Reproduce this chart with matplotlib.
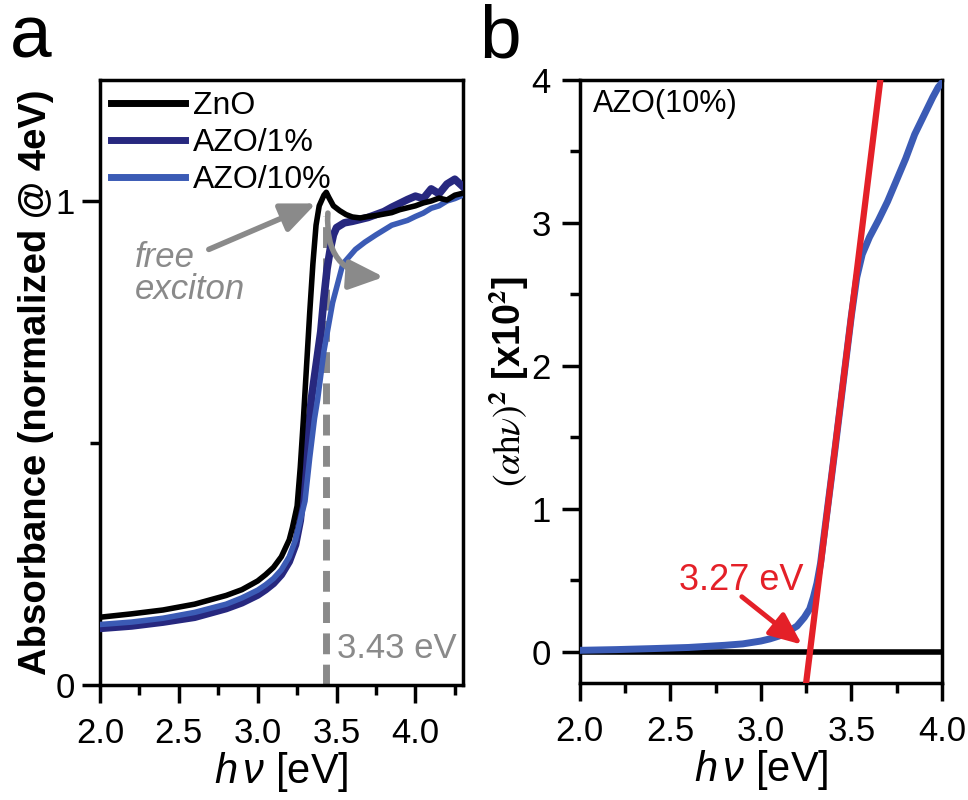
import matplotlib
matplotlib.use("Agg")
import matplotlib.pyplot as plt
from matplotlib.ticker import MultipleLocator

plt.rcParams["font.family"] = ["Liberation Sans", "DejaVu Sans"]
plt.rcParams["mathtext.fontset"] = "custom"
plt.rcParams["mathtext.rm"] = "Liberation Sans"
plt.rcParams["mathtext.it"] = "Liberation Sans:italic"
plt.rcParams["mathtext.bf"] = "Liberation Sans:bold"

# (a) normalized absorbance spectra
zno_x = [2.0, 2.2, 2.4, 2.6, 2.8, 2.9, 3.0, 3.05, 3.1, 3.15, 3.2, 3.22, 3.25, 3.27, 3.29,
         3.31, 3.33, 3.35, 3.37, 3.39, 3.42, 3.435, 3.45, 3.48, 3.52, 3.56, 3.6, 3.65, 3.7,
         3.75, 3.8, 3.85, 3.9, 3.95, 4.0, 4.05, 4.1, 4.15, 4.2, 4.25, 4.3]
zno_y = [0.140, 0.147, 0.155, 0.167, 0.185, 0.197, 0.215, 0.228, 0.243, 0.265, 0.300, 0.325,
         0.370, 0.450, 0.550, 0.660, 0.770, 0.870, 0.950, 0.990, 1.012, 1.018, 1.008, 0.990,
         0.980, 0.972, 0.967, 0.965, 0.968, 0.970, 0.973, 0.976, 0.982, 0.986, 0.990, 0.996,
         1.000, 1.006, 1.002, 1.012, 1.016]

azo1_x = [2.0, 2.2, 2.4, 2.6, 2.8, 2.9, 3.0, 3.05, 3.1, 3.15, 3.2, 3.24, 3.27, 3.3, 3.32,
          3.34, 3.37, 3.4, 3.42, 3.44, 3.46, 3.48, 3.5, 3.55, 3.6, 3.65, 3.7, 3.75, 3.8,
          3.85, 3.9, 3.95, 4.0, 4.05, 4.1, 4.15, 4.2, 4.25, 4.3]
azo1_y = [0.117, 0.122, 0.130, 0.140, 0.158, 0.170, 0.186, 0.197, 0.210, 0.228, 0.255, 0.290,
          0.340, 0.440, 0.520, 0.590, 0.660, 0.730, 0.800, 0.860, 0.900, 0.930, 0.945, 0.955,
          0.958, 0.962, 0.966, 0.972, 0.978, 0.987, 0.995, 1.003, 1.010, 1.005, 1.025, 1.015,
          1.035, 1.045, 1.030]

azo10_x = [2.0, 2.2, 2.4, 2.6, 2.8, 2.9, 3.0, 3.05, 3.1, 3.15, 3.2, 3.24, 3.27, 3.3, 3.33,
           3.36, 3.38, 3.42, 3.475, 3.54, 3.62, 3.68, 3.75, 3.8, 3.85, 3.9, 3.95, 4.0, 4.05,
           4.1, 4.15, 4.2, 4.25, 4.3]
azo10_y = [0.125, 0.130, 0.138, 0.150, 0.167, 0.180, 0.196, 0.207, 0.220, 0.238, 0.265, 0.300,
           0.340, 0.380, 0.470, 0.550, 0.590, 0.690, 0.790, 0.870, 0.900, 0.915, 0.930, 0.940,
           0.950, 0.955, 0.960, 0.968, 0.975, 0.985, 0.990, 1.000, 1.005, 1.012]

exciton_ev = 3.43

# (b) Tauc plot of AZO(10%)
tauc_x = [2.0, 2.2, 2.4, 2.6, 2.8, 2.9, 3.0, 3.05, 3.1, 3.15, 3.2, 3.24, 3.27, 3.29, 3.31,
          3.33, 3.35, 3.38, 3.41, 3.44, 3.47, 3.5, 3.53, 3.56, 3.6, 3.65, 3.7, 3.75, 3.8,
          3.85, 3.9, 3.95, 3.98, 4.0]
tauc_y = [0.01, 0.015, 0.022, 0.030, 0.045, 0.055, 0.075, 0.09, 0.11, 0.14, 0.18, 0.24, 0.30,
          0.38, 0.48, 0.62, 0.82, 1.12, 1.42, 1.73, 2.04, 2.35, 2.62, 2.78, 2.90, 3.02, 3.15,
          3.30, 3.45, 3.62, 3.75, 3.88, 3.95, 3.98]
fit_x = [3.25, 3.66]
fit_y = [-0.22, 4.0]
gap_ev = 3.27

ZNO_C = "#000000"
AZO1_C = "#27287f"
AZO10_C = "#3b5bb5"
GRAY = "#8a8a8a"
RED = "#e42028"

TICK_FS = 25
ARROW = "-|>,head_length=1.4,head_width=0.6"


def style_axes(ax, ypad):
    for s in ax.spines.values():
        s.set_linewidth(2.5)
    ax.tick_params(which="both", direction="out", width=2.5, top=False, right=False,
                   labelsize=TICK_FS)
    ax.tick_params(axis="x", pad=10)
    ax.tick_params(axis="y", pad=ypad)
    ax.tick_params(which="major", length=13)
    ax.tick_params(which="minor", length=7)


fig = plt.figure(figsize=(9.68, 8), dpi=100)
ax_a = fig.add_axes([0.1033, 0.14375, 0.3747, 0.75625])
ax_b = fig.add_axes([0.599, 0.146, 0.374, 0.754])

# panel a
ax_a.plot(zno_x, zno_y, color=ZNO_C, lw=4, label="ZnO", zorder=4)
ax_a.plot(azo1_x, azo1_y, color=AZO1_C, lw=5.5, label="AZO/1%", zorder=3)
ax_a.plot(azo10_x, azo10_y, color=AZO10_C, lw=4, label="AZO/10%", zorder=3)
ax_a.plot([exciton_ev, exciton_ev], [0, 0.97], color=GRAY, lw=5, dashes=(3, 1.5), zorder=2)
ax_a.text(exciton_ev + 0.07, 0.076, f"{exciton_ev:.2f} eV", color=GRAY, fontsize=25,
          va="center", ha="left")

ax_a.set_xlim(2.0, 4.3)
ax_a.set_ylim(0, 1.25)
ax_a.xaxis.set_major_locator(MultipleLocator(0.5))
ax_a.xaxis.set_minor_locator(MultipleLocator(0.25))
ax_a.set_yticks([0, 1])
ax_a.set_yticklabels(["0", "1"])
ax_a.set_yticks([0.5], minor=True)
style_axes(ax_a, 5)
ax_a.set_xlabel(r"$h\,\nu$ [eV]", fontsize=30, labelpad=0)
ax_a.set_ylabel("Absorbance (normalized @ 4eV)", fontsize=27.5, fontweight="bold", labelpad=1)

ax_a.text(2.22, 0.85, "free\nexciton", color=GRAY, fontsize=25, style="italic",
          ha="left", va="center", linespacing=0.95)
ax_a.annotate("", xy=(3.37, 0.995), xytext=(2.69, 0.90),
              arrowprops=dict(arrowstyle=ARROW, mutation_scale=15,
                              color=GRAY, lw=4, shrinkA=0, shrinkB=0))
ax_a.annotate("", xy=(3.80, 0.843), xytext=(3.445, 0.975),
              arrowprops=dict(arrowstyle=ARROW, mutation_scale=15,
                              color=GRAY, lw=4, shrinkA=0, shrinkB=0,
                              connectionstyle="arc3,rad=0.5"))

leg = ax_a.legend(loc="upper left", frameon=False, fontsize=23, handlelength=2.3,
                  handletextpad=0.25, labelspacing=0.22, borderaxespad=0.05,
                  borderpad=0.3)
for line in leg.get_lines():
    line.set_linewidth(5)

# panel b
ax_b.axhline(0, color="black", lw=4, zorder=2)
ax_b.plot(tauc_x, tauc_y, color=AZO10_C, lw=5, zorder=3)
ax_b.plot(fit_x, fit_y, color=RED, lw=4.5, zorder=4)
ax_b.text(2.07, 3.83, "AZO(10%)", fontsize=22, ha="left", va="center")
ax_b.text(2.55, 0.50, f"{gap_ev:.2f} eV", color=RED, fontsize=26, ha="left", va="center")
ax_b.annotate("", xy=(3.227, 0.05), xytext=(2.895, 0.385),
              arrowprops=dict(arrowstyle=ARROW, mutation_scale=14,
                              color=RED, lw=3.5, shrinkA=0, shrinkB=0))

ax_b.set_xlim(2.0, 4.0)
ax_b.set_ylim(-0.22, 4.0)
ax_b.set_xticks([2.0, 2.5, 3.0, 3.5, 4.0])
ax_b.set_xticklabels(["2.0", "2.5", "3.0", "3.5", "4.0"])
ax_b.xaxis.set_minor_locator(MultipleLocator(0.25))
ax_b.yaxis.set_major_locator(MultipleLocator(1))
ax_b.yaxis.set_minor_locator(MultipleLocator(0.5))
style_axes(ax_b, 8)
ax_b.set_xlabel(r"$h\,\nu$ [eV]", fontsize=30, labelpad=0)
ax_b.set_ylabel(r"$(\alpha\mathrm{h}\nu)^{\mathbf{2}}$ [x10$^{\mathbf{2}}$]", fontsize=27,
                fontweight="bold", math_fontfamily="stix", labelpad=0)

fig.text(0.01, 0.995, "a", fontsize=54, ha="left", va="top")
fig.text(0.495, 0.995, "b", fontsize=54, ha="left", va="top")

fig.savefig("out.png", dpi=100)
